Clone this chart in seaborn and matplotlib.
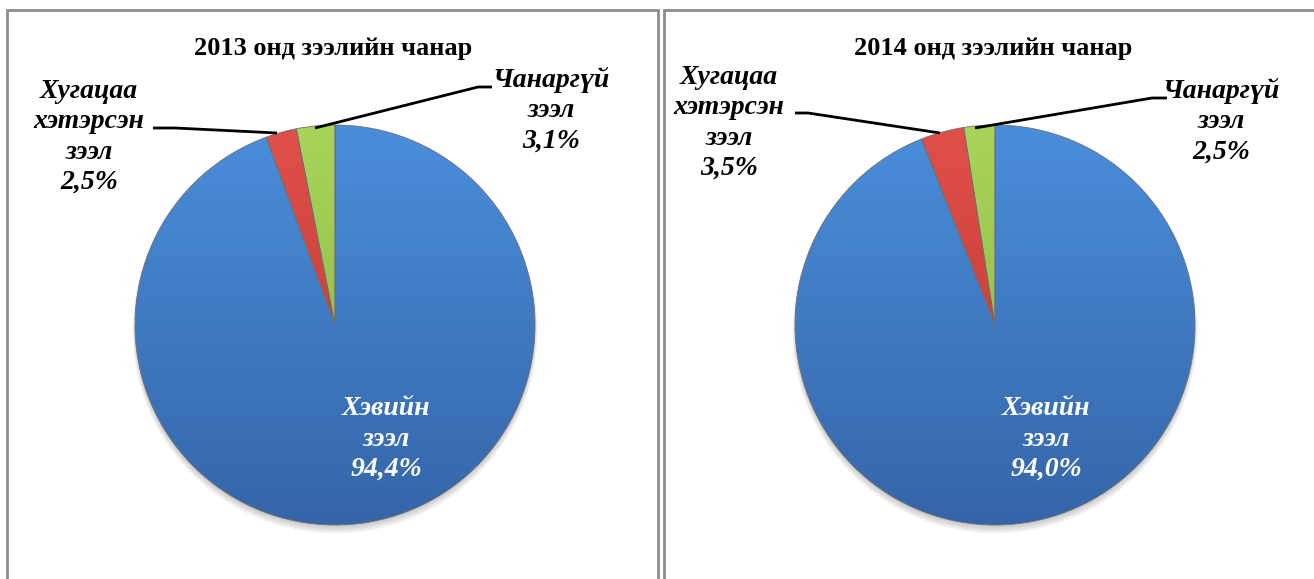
import numpy as np
import matplotlib
matplotlib.use("Agg")
import matplotlib.pyplot as plt
import seaborn as sns
from matplotlib.patches import Rectangle, Circle

sns.set_theme(style="white")
plt.rcParams['font.family'] = ['Liberation Serif', 'DejaVu Serif']

# ---- data ----
years = ["2013", "2014"]
categories = ["Чанаргүй зээл", "Хугацаа хэтэрсэн зээл", "Хэвийн зээл"]
share_2013 = [3.1, 2.5, 94.4]
share_2014 = [2.5, 3.5, 94.0]
pct_text_2013 = ["3,1%", "2,5%", "94,4%"]
pct_text_2014 = ["2,5%", "3,5%", "94,0%"]
titles = ["2013 онд зээлийн чанар", "2014 онд зээлийн чанар"]

colors = sns.color_palette(["#9BC94B", "#D8403A", "#4384D3"])
top_cols = ["#A9D45C", "#E05049", "#4A8EDB"]
bot_cols = ["#86B23A", "#B8322D", "#3565A8"]

W, H = 1314, 579
fig = plt.figure(figsize=(W / 100, H / 100), dpi=100)

def px_axes(x0, y0, w, h):
    return fig.add_axes([x0 / W, 1 - (y0 + h) / H, w / W, h / H])

# panel borders
for (x0, x1) in [(7, 658), (664, 1318)]:
    fig.patches.append(Rectangle((x0 / W, -0.05), (x1 - x0) / W, (H - 10) / H + 0.05,
                                 transform=fig.transFigure, fill=False,
                                 edgecolor="#8c8c8c", linewidth=2.0))

def gradient_fill(ax, wedge, c_top, c_bot):
    from matplotlib.colors import to_rgb
    t = np.array(to_rgb(c_top)); b = np.array(to_rgb(c_bot))
    n = 256
    g = np.linspace(0, 1, n)[:, None]
    img = (t[None, :] * (1 - g) + b[None, :] * g)[:, None, :]
    img = np.repeat(img, 2, axis=1)
    im = ax.imshow(img, extent=(-1, 1, -1, 1), origin="upper", zorder=wedge.get_zorder(),
                   aspect="auto", interpolation="bilinear")
    im.set_clip_path(wedge)

label_cfg = [
    dict(cx=335, cy=325,
         green_lbl=(551, 110), red_lbl=(89, 137), blue_lbl=(386, 439),
         green_line=[(492, 87), (478, 87), (315, 128)],
         red_line=[(153, 128), (175, 128), (277, 133)]),
    dict(cx=995, cy=325,
         green_lbl=(1221, 121), red_lbl=(729, 123), blue_lbl=(1046, 439),
         green_line=[(1167, 98), (1152, 98), (975, 128)],
         red_line=[(795, 113), (808, 113), (940, 133)]),
]

R = 200
for i, (vals, pcts, cfg) in enumerate(zip([share_2013, share_2014],
                                          [pct_text_2013, pct_text_2014], label_cfg)):
    ax = px_axes(cfg["cx"] - R, cfg["cy"] - R, 2 * R, 2 * R)
    # soft shadow
    for k in range(4):
        ax.add_patch(Circle((0, -0.012 - 0.006 * k), 1.0 + 0.004 * k, color="black",
                            alpha=0.05, lw=0, zorder=1, clip_on=False))
    wedges, _ = ax.pie(vals, colors=colors, startangle=90, counterclock=True,
                       radius=1.0, wedgeprops=dict(linewidth=0.6, edgecolor="#6f6f6f"))
    for w, ct, cb in zip(wedges, top_cols, bot_cols):
        w.set_zorder(3)
        gradient_fill(ax, w, ct, cb)
        w.set_facecolor("none")
        w.set_zorder(4)
    ax.set_xlim(-1, 1); ax.set_ylim(-1, 1)
    ax.set_aspect("equal")
    ax.axis("off")

    def d(p):
        return ((p[0] - cfg["cx"]) / R, (cfg["cy"] - p[1]) / R)

    kw = dict(fontsize=20, fontweight="bold", fontstyle="italic", ha="center",
              va="center", linespacing=1.27, clip_on=False, zorder=6)
    ax.text(*d(cfg["green_lbl"]), "Чанаргүй\nзээл\n" + pcts[0], color="black", **kw)
    ax.text(*d(cfg["red_lbl"]), "Хугацаа\nхэтэрсэн\nзээл\n" + pcts[1], color="black", **kw)
    ax.text(*d(cfg["blue_lbl"]), "Хэвийн\nзээл\n" + pcts[2], color="white", **kw)
    for line in (cfg["green_line"], cfg["red_line"]):
        pts = np.array([d(p) for p in line])
        ax.plot(pts[:, 0], pts[:, 1], color="black", lw=2, clip_on=False, zorder=7,
                solid_capstyle="butt")

    fig.text((cfg["cx"] - 2) / W, 1 - 48 / H, titles[i], ha="center", va="center",
             fontsize=19, fontweight="bold", color="black")

fig.savefig("out.png", dpi=100)
